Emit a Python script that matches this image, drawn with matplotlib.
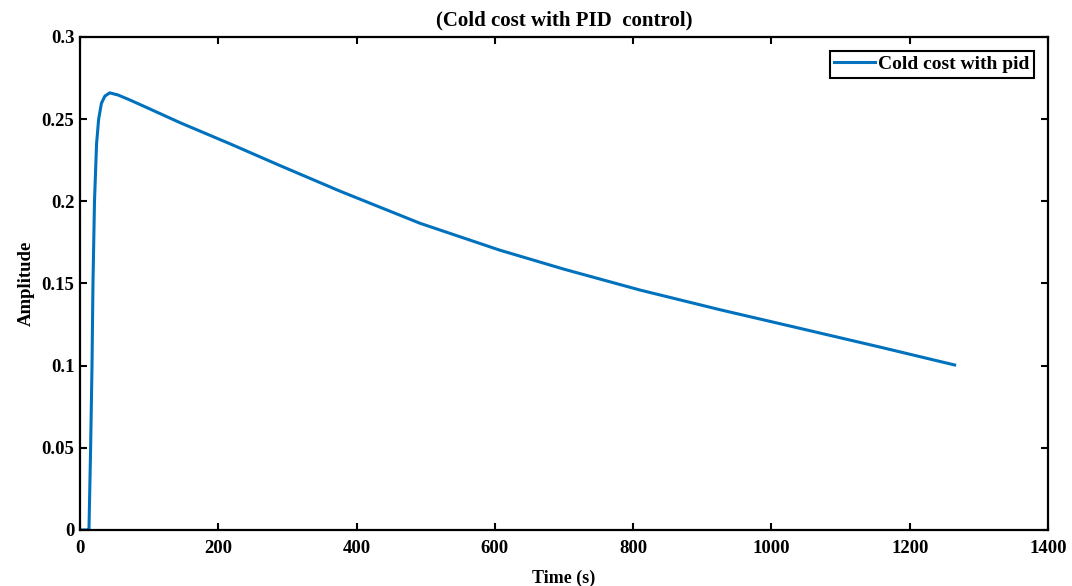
import numpy as np
import matplotlib
matplotlib.use("Agg")
import matplotlib.pyplot as plt

# values
time_s = [0, 12, 13, 15.4, 17.4, 18.8, 21, 24, 27, 31, 36, 43, 55, 72, 100, 145, 217,
          289, 376, 492, 607, 700, 810, 926, 1030, 1157, 1265]
amplitude = [0, 0, 0.0, 0.05, 0.10, 0.15, 0.20, 0.235, 0.250, 0.2596, 0.2640, 0.2660,
             0.2647, 0.2617, 0.2564, 0.2478, 0.2350, 0.2218, 0.2062, 0.1866, 0.1703,
             0.1587, 0.1460, 0.1340, 0.1238, 0.1113, 0.1004]

plt.rcParams['font.family'] = ['Liberation Serif', 'DejaVu Serif']
plt.rcParams['font.weight'] = 'bold'

fig = plt.figure(figsize=(10.72, 5.86), dpi=100)
ax = fig.add_axes([0.0746, 0.0956, 0.903, 0.8413])

ax.plot(time_s, amplitude, color='#0072BD', linewidth=2.2, label='Cold cost with pid')

ax.set_xlim(0, 1400)
ax.set_ylim(0, 0.3)
ax.set_xticks(np.arange(0, 1401, 200))
ax.set_yticks([0, 0.05, 0.1, 0.15, 0.2, 0.25, 0.3])
ax.set_yticklabels(['0', '0.05', '0.1', '0.15', '0.2', '0.25', '0.3'])

ax.tick_params(direction='in', top=True, right=True, length=5, width=1.5,
               labelsize=13.5)
ax.tick_params(axis='x', pad=7)
ax.tick_params(axis='y', pad=4)
for lab in ax.get_xticklabels() + ax.get_yticklabels():
    lab.set_fontweight('bold')
for sp in ax.spines.values():
    sp.set_linewidth(1.6)

ax.set_xlabel('Time (s)', fontsize=13, fontweight='bold', labelpad=9)
ax.set_ylabel('Amplitude', fontsize=13.5, fontweight='bold', labelpad=5)
ax.set_title('(Cold cost with PID  control)', fontsize=15, fontweight='bold', pad=8)

leg = ax.legend(loc='upper right', fontsize=14, fancybox=False, framealpha=1,
                edgecolor='black', handlelength=2.1, handletextpad=0.15,
                borderpad=0.25, borderaxespad=0.7)
leg.get_frame().set_linewidth(1.5)
for t in leg.get_texts():
    t.set_fontweight('bold')

fig.savefig('out.png', dpi=100)
